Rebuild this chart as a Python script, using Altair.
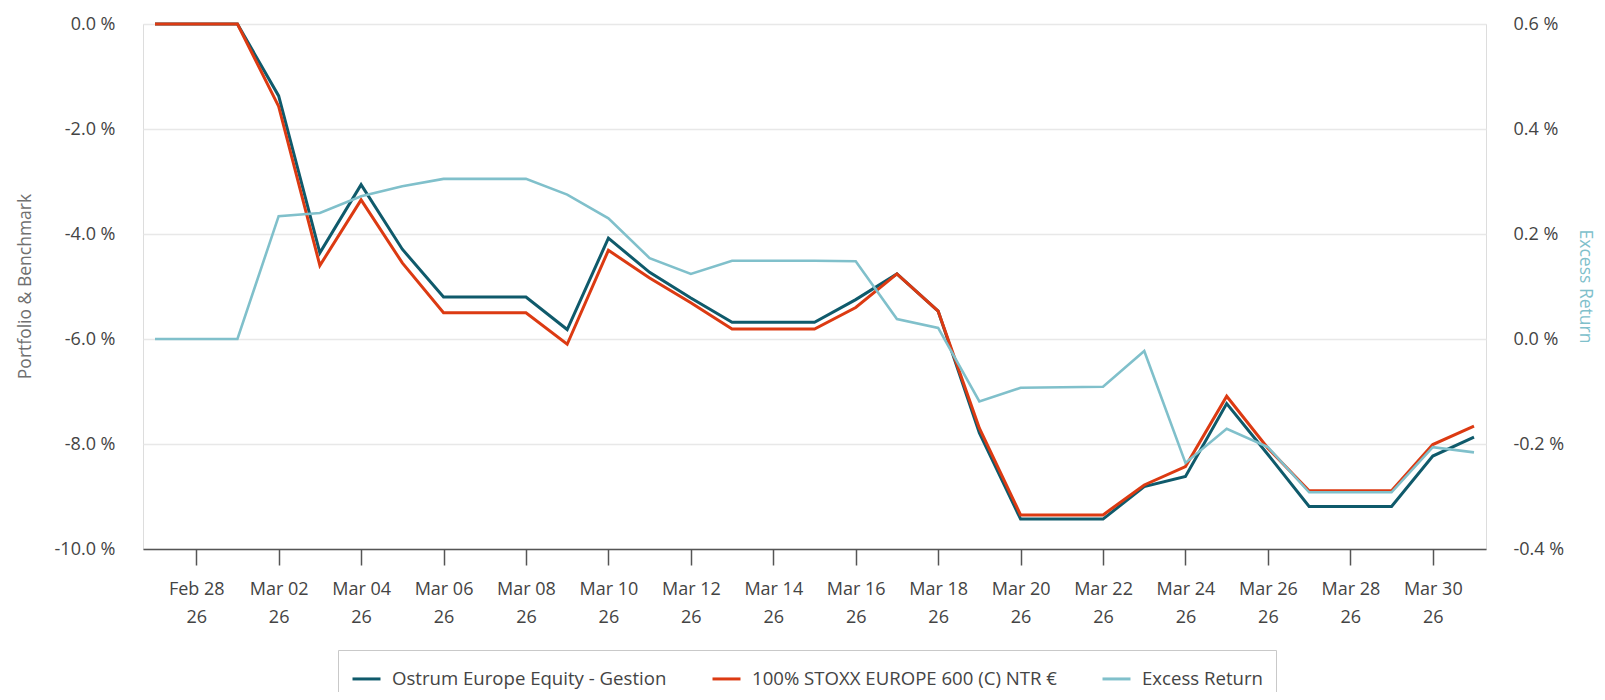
import altair as alt
import pandas as pd

# ---- data ----
dates = [
    "2026-02-27", "2026-02-28", "2026-03-01", "2026-03-02", "2026-03-03", "2026-03-04",
    "2026-03-05", "2026-03-06", "2026-03-07", "2026-03-08", "2026-03-09", "2026-03-10",
    "2026-03-11", "2026-03-12", "2026-03-13", "2026-03-14", "2026-03-15", "2026-03-16",
    "2026-03-17", "2026-03-18", "2026-03-19", "2026-03-20", "2026-03-21", "2026-03-22",
    "2026-03-23", "2026-03-24", "2026-03-25", "2026-03-26", "2026-03-27", "2026-03-28",
    "2026-03-29", "2026-03-30", "2026-03-31",
]
portfolio = [
    0.00, 0.00, 0.00, -1.37, -4.36, -3.06,
    -4.29, -5.20, -5.20, -5.20, -5.82, -4.08,
    -4.73, -5.22, -5.68, -5.68, -5.68, -5.25,
    -4.76, -5.47, -7.79, -9.43, -9.43, -9.43,
    -8.81, -8.62, -7.23, -8.20, -9.19, -9.19,
    -9.19, -8.23, -7.87,
]
benchmark = [
    0.00, 0.00, 0.00, -1.57, -4.60, -3.35,
    -4.55, -5.50, -5.50, -5.50, -6.10, -4.31,
    -4.84, -5.31, -5.81, -5.81, -5.81, -5.40,
    -4.76, -5.47, -7.70, -9.35, -9.35, -9.35,
    -8.78, -8.43, -7.09, -8.08, -8.89, -8.89,
    -8.89, -8.01, -7.66,
]
excess = [
    0.000, 0.000, 0.000, 0.234, 0.240, 0.272,
    0.291, 0.305, 0.305, 0.305, 0.275, 0.230,
    0.154, 0.124, 0.149, 0.149, 0.149, 0.148,
    0.038, 0.021, -0.119, -0.093, -0.092, -0.091,
    -0.023, -0.236, -0.171, -0.206, -0.292, -0.292,
    -0.292, -0.206, -0.216,
]
series_names = [
    "Ostrum Europe Equity - Gestion",
    "100% STOXX EUROPE 600 (C) NTR €",
    "Excess Return",
]
series_colors = ["#0f5a6b", "#dc3a12", "#80c0cb"]
x_tick_dates = [
    "2026-02-28", "2026-03-02", "2026-03-04", "2026-03-06", "2026-03-08", "2026-03-10",
    "2026-03-12", "2026-03-14", "2026-03-16", "2026-03-18", "2026-03-20", "2026-03-22",
    "2026-03-24", "2026-03-26", "2026-03-28", "2026-03-30",
]
left_ticks = [-10.0, -8.0, -6.0, -4.0, -2.0, 0.0]
right_ticks = [-0.4, -0.2, 0.0, 0.2, 0.4, 0.6]

FONT = "Open Sans"
TEXT = "#444444"


def mk(values, name):
    return pd.DataFrame({"date": dates, "value": values, "series": name})


df_p = mk(portfolio, series_names[0])
df_b = mk(benchmark, series_names[1])
df_e = mk(excess, series_names[2])

tick_dt = []
for d in x_tick_dates:
    y, m, dd = (int(v) for v in d.split("-"))
    tick_dt.append(alt.DateTime(year=y, month=m, date=dd, utc=True))

x_axis = alt.Axis(
    values=tick_dt,
    labelExpr="[utcFormat(datum.value, '%b %d'), utcFormat(datum.value, '%y')]",
    title=None,
    grid=False,
    domainColor="#555555",
    domainWidth=1.5,
    tickColor="#555555",
    tickWidth=1.5,
    tickSize=16,
    labelPadding=15,
    labelFontSize=18,
    labelLineHeight=28,
    labelColor=TEXT,
    labelFont=FONT,
    labelAlign="center",
    labelBaseline="top",
)
x_enc = alt.X("date:T", scale=alt.Scale(type="utc", padding=12, nice=False), axis=x_axis)

pct_expr = "(datum.value < 0 ? '-' : '') + format(abs(datum.value), '.1f') + ' %'"

y_left = alt.Y(
    "value:Q",
    scale=alt.Scale(domain=[-10, 0], nice=False, zero=False),
    axis=alt.Axis(
        values=left_ticks,
        labelExpr=pct_expr,
        title="Portfolio & Benchmark",
        titleFont=FONT,
        titleFontSize=17.5,
        titleFontWeight="normal",
        titleColor="#6f6f6f",
        titleX=-118,
        titleY=262,
        titleAngle=-90,
        titleAlign="center",
        titleBaseline="middle",
        ticks=False,
        tickSize=0,
        domain=False,
        grid=True,
        gridColor="#e8e8e8",
        gridWidth=1.5,
        labelPadding=28,
        labelFontSize=18,
        labelColor=TEXT,
        labelFont=FONT,
    ),
)
y_right = alt.Y(
    "value:Q",
    scale=alt.Scale(domain=[-0.4, 0.6], nice=False, zero=False),
    axis=alt.Axis(
        orient="right",
        values=right_ticks,
        labelExpr=pct_expr,
        title="Excess Return",
        titleFont=FONT,
        titleFontSize=17.5,
        titleFontWeight="normal",
        titleColor="#80c0cb",
        titleX=98,
        titleY=262,
        titleAngle=90,
        titleAlign="center",
        titleBaseline="middle",
        ticks=False,
        tickSize=0,
        domain=False,
        grid=False,
        labelPadding=27,
        labelFontSize=18,
        labelColor=TEXT,
        labelFont=FONT,
    ),
)

color_scale = alt.Scale(domain=series_names, range=series_colors)
legend = alt.Legend(
    title=None,
    orient="none",
    legendX=195,
    legendY=626,
    direction="horizontal",
    columns=3,
    symbolType="stroke",
    symbolSize=784,
    symbolStrokeWidth=3,
    labelFont=FONT,
    labelFontSize=18.6,
    labelColor=TEXT,
    labelOffset=10,
    labelLimit=600,
    columnPadding=39,
    padding=13,
    fillColor="#ffffff",
    strokeColor="#c9c9c9",
    cornerRadius=0,
)
color_enc = alt.Color("series:N", scale=color_scale, legend=legend, sort=series_names)

line_p = alt.Chart(df_p).mark_line(strokeWidth=3).encode(x=x_enc, y=y_left, color=color_enc)
line_b = alt.Chart(df_b).mark_line(strokeWidth=3).encode(x=x_enc, y=y_left, color=color_enc)
line_e = alt.Chart(df_e).mark_line(strokeWidth=2.6).encode(x=x_enc, y=y_right, color=color_enc)

chart = (
    alt.layer(alt.layer(line_p, line_b), line_e)
    .resolve_scale(y="independent")
    .properties(
        width=1343,
        height=525,
        autosize=alt.AutoSizeParams(type="none"),
        padding={"left": 135, "top": 16, "right": 111, "bottom": 143},
    )
    .configure_view(stroke=None)
    .configure(font=FONT)
)

chart.save("out.html", embed_options={"renderer": "svg", "actions": False})
